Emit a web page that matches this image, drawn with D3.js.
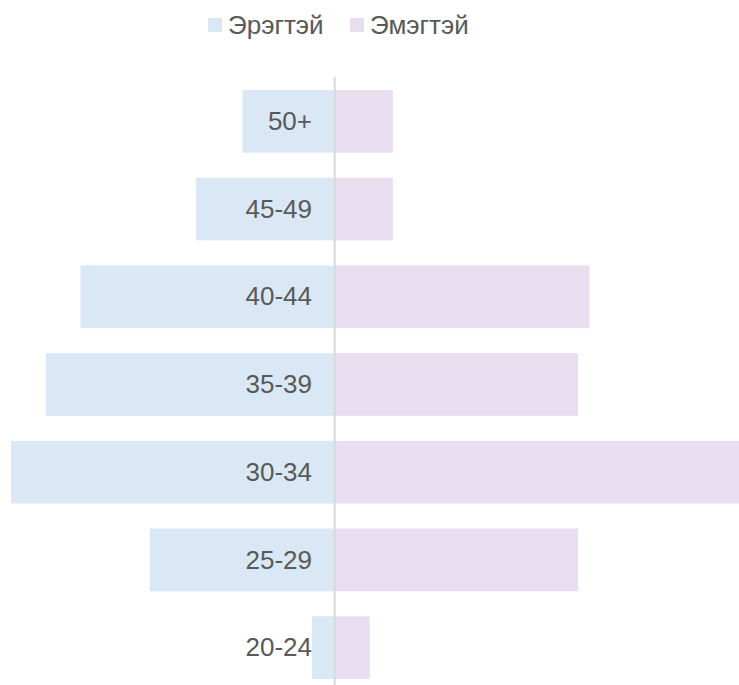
<!DOCTYPE html>
<html>
<head>
<meta charset="utf-8">
<script src="https://cdn.jsdelivr.net/npm/d3@7"></script>
<style>
  body { margin: 0; background: #fff; }
  svg { display: block; font-family: Arial, "Liberation Sans", sans-serif; }
</style>
</head>
<body>
<svg id="chart"></svg>
<script>
const ageGroups = ["50+", "45-49", "40-44", "35-39", "30-34", "25-29", "20-24"];
const male = [8, 12, 22, 25, 28, 16, 2];
const female = [5, 5, 22, 21, 35, 21, 3];
const seriesNames = ["Эрэгтэй", "Эмэгтэй"];
const colors = ["#dae8f5", "#e9def0"];

const w = 739;
const h = 685;

const svg = d3.select("#chart").attr("width", w).attr("height", h);

const x = d3.scaleLinear().domain([-28, 35]).range([11, 740]);

const y = d3
  .scaleBand()
  .domain(ageGroups)
  .range([90, 679])
  .paddingInner(0.285)
  .paddingOuter(0);

// male bars (left)
svg
  .append("g")
  .selectAll("rect")
  .data(ageGroups)
  .enter()
  .append("rect")
  .attr("x", (d, i) => x(-male[i]))
  .attr("y", (d) => y(d))
  .attr("width", (d, i) => x(0) - x(-male[i]))
  .attr("height", y.bandwidth())
  .attr("fill", colors[0]);

// female bars (right)
svg
  .append("g")
  .selectAll("rect")
  .data(ageGroups)
  .enter()
  .append("rect")
  .attr("x", x(0))
  .attr("y", (d) => y(d))
  .attr("width", (d, i) => x(female[i]) - x(0))
  .attr("height", y.bandwidth())
  .attr("fill", colors[1]);

// center axis
svg
  .append("line")
  .attr("x1", x(0) - 0.3)
  .attr("x2", x(0) - 0.3)
  .attr("y1", 77)
  .attr("y2", h)
  .attr("stroke", "#d9d9d9")
  .attr("stroke-width", 2);

// category labels
svg
  .append("g")
  .selectAll("text")
  .data(ageGroups)
  .enter()
  .append("text")
  .attr("x", x(0) - 23)
  .attr("y", (d) => y(d) + y.bandwidth() / 2)
  .attr("dy", "0.33em")
  .attr("text-anchor", "end")
  .attr("font-size", 26)
  .attr("fill", "#595959")
  .text((d) => d);

// legend
const legendX = [208, 350];
const legend = svg
  .append("g")
  .selectAll("g")
  .data(seriesNames)
  .enter()
  .append("g")
  .attr("transform", (d, i) => `translate(${legendX[i]},0)`);

legend
  .append("rect")
  .attr("x", 0)
  .attr("y", 18)
  .attr("width", 14)
  .attr("height", 14)
  .attr("fill", (d, i) => colors[i]);

legend
  .append("text")
  .attr("x", 20)
  .attr("y", 34)
  .attr("font-size", 26)
  .attr("fill", "#595959")
  .text((d) => d);
</script>
</body>
</html>
